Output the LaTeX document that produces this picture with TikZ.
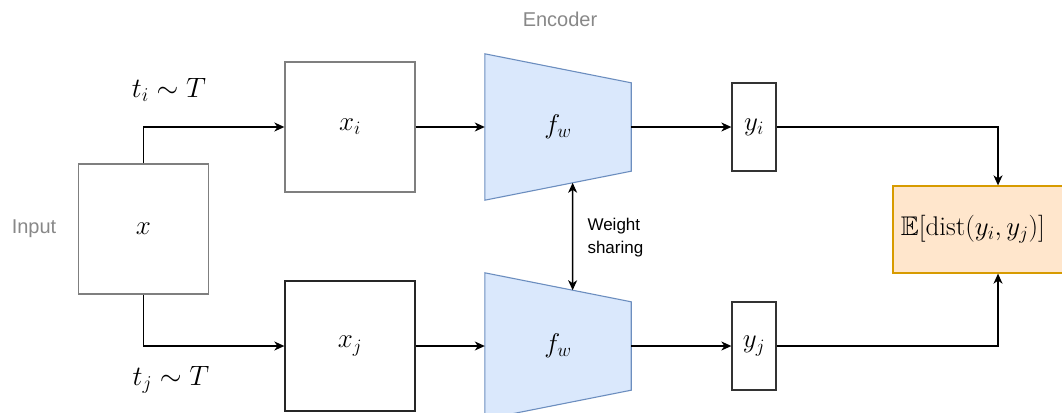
\RequirePackage{fix-cm}
\documentclass[tikz,border=0pt]{standalone}
\usepackage{amssymb}
\usepackage{fontspec}
\setsansfont{Liberation Sans}
\usepackage{xcolor}
\usetikzlibrary{
    arrows.meta,
    positioning,
    calc
}

\definecolor{boxgray}{HTML}{7F7F7F}
\definecolor{txtgray}{HTML}{888888}
\definecolor{encfill}{HTML}{DAE8FC}
\definecolor{encline}{HTML}{6C8EBF}
\definecolor{lossfill}{HTML}{FFE6CC}
\definecolor{lossline}{HTML}{D79B00}

\tikzset{
    >={Stealth[length=10pt, width=9pt, inset=3pt]},
    arr/.style={->, line width=1.3pt},
    mathtxt/.style={font=\fontsize{27}{31}\selectfont},
    viewbox/.style={mathtxt, draw=boxgray, line width=1.3pt, minimum width=130pt, minimum height=130pt},
    outbox/.style={mathtxt, draw=black!80, line width=1.3pt, minimum width=44pt, minimum height=88pt},
    enc/.style={minimum width=146pt, minimum height=146pt, inner sep=0pt},
    encshape/.style={draw=encline, fill=encfill, line width=1.1pt},
    note/.style={text=txtgray, font=\sffamily\fontsize{20}{24}\selectfont},
    aug/.style={font=\fontsize{28}{32}\selectfont}
}

\begin{document}
\begin{tikzpicture}[x=1pt, y=-1pt]
    \useasboundingbox (0,0) rectangle (1062,412);
    \clip (0,0) rectangle (1062,412);

    % input and its two views
    \node[viewbox] (in) at (143.5,229) {$x$};
    \node[viewbox] (xi) at (350,127) {$x_i$};
    \node[viewbox, draw=black!85] (xj) at (350,346) {$x_j$};
    \node[note] (inlbl) at (34,229) {Input};
    \node[aug] (ti) at (169,90) {$t_i \sim T$};
    \node[aug] (tj) at (171,380) {$t_j \sim T$};

    % shared encoder
    \node[enc] (fi) at (558,127) {};
    \node[enc] (fj) at (558,346) {};
    \foreach \e/\a/\b in {fi/wsa/x, fj/x/wsb}{
        \draw[encshape] (\e.north west) -- coordinate[pos=.6] (\b) ([yshift=-29pt]\e.north east)
            -- ([yshift=29pt]\e.south east) -- coordinate[pos=.4] (\a) (\e.south west) -- cycle;
    }
    \node[mathtxt] at (fi) {$f_w$};
    \node[mathtxt] at (fj) {$f_w$};
    \node[note] (enclbl) at (560,19) {Encoder};
    \node[anchor=west, align=left, font=\sffamily\fontsize{17}{23}\selectfont] (wslbl) at (584,238)
        {Weight\\sharing};

    % embeddings and loss
    \node[outbox] (yi) at (754,127) {$y_i$};
    \node[outbox] (yj) at (754,346) {$y_j$};
    \node[draw=lossline, fill=lossfill, line width=1.3pt, minimum width=210pt, minimum height=87pt]
        (loss) at (998,229.5) {};
    \node[mathtxt, anchor=west, xshift=5pt] (losstxt) at (loss.west)
        {$\mathbb{E}[\mathrm{dist}(y_i, y_j)]$};

    \draw[arr] (in.north) |- (xi.west);
    \draw[arr] (in.south) |- (xj.west);
    \draw[arr] (xi) -- (fi);
    \draw[arr] (xj) -- (fj);
    \draw[arr] (fi) -- (yi);
    \draw[arr] (fj) -- (yj);
    \draw[arr] (yi) -| (loss);
    \draw[arr] (yj) -| (loss);
    \draw[arr, <->] (wsa) -- (wsb);
\end{tikzpicture}
\end{document}
